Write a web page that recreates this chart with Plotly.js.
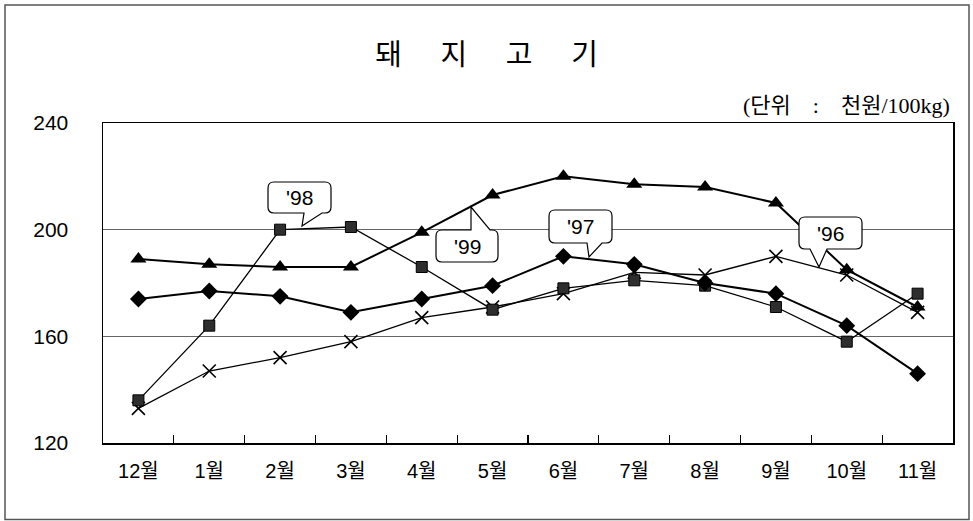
<!DOCTYPE html>
<html>
<head>
<meta charset="utf-8">
<script src="https://cdn.plot.ly/plotly-3.0.1.min.js"></script>
<style>html,body{margin:0;padding:0;background:#fff;}#chart{width:973px;height:521px;}</style>
</head>
<body>
<div id="chart"></div>
<script>
// ---- data ----
const months = ['12월','1월','2월','3월','4월','5월','6월','7월','8월','9월','10월','11월'];
const y96 = [133,147,152,158,167,171,176,184,183,190,183,169];   // X marker
const y97 = [174,177,175,169,174,179,190,187,180,176,164,146];   // diamond
const y98 = [136,164,200,201,186,170,178,181,179,171,158,176];   // square
const y99 = [189,187,186,186,199,213,220,217,216,210,185,171];   // triangle
const yTicks = [120,160,200,240];
const titleText = '돼\u3000\u2004지\u3000\u2004고\u3000\u2004기';
const unitText = '(단위\u2003:\u2003천원/100kg)';
const callLabels = ["'98","'99","'97","'96"];

// ---- layout helpers (pixel -> paper) ----
const L=103, R=953, T=123, B=443;
const px = x => (x-L)/(R-L);
const py = y => (B-y)/(B-T);
function P(x,y){ return px(x).toFixed(5)+','+py(y).toFixed(5); }
function bubble(x0,y0,x1,y1,side,a,b,tx,ty){
  const r=6;
  let d='M'+P(x0+r,y0);
  if(side==='top') d+=' L'+P(a,y0)+' L'+P(tx,ty)+' L'+P(b,y0);
  d+=' L'+P(x1-r,y0)+' Q'+P(x1,y0)+' '+P(x1,y0+r);
  d+=' L'+P(x1,y1-r)+' Q'+P(x1,y1)+' '+P(x1-r,y1);
  if(side==='bottom') d+=' L'+P(b,y1)+' L'+P(tx,ty)+' L'+P(a,y1);
  d+=' L'+P(x0+r,y1)+' Q'+P(x0,y1)+' '+P(x0,y1-r);
  d+=' L'+P(x0,y0+r)+' Q'+P(x0,y0)+' '+P(x0+r,y0)+' Z';
  return {type:'path', xref:'paper', yref:'paper', path:d, fillcolor:'#fff',
          line:{color:'#000', width:1.2}, layer:'above'};
}
const bubbles = [
  [268,182,331,213,'bottom',304,322,302,226],
  [436,230,498,262,'top',471,490,471,207],
  [549,210,612,243,'bottom',587,602,589,257],
  [799,217,862,249,'bottom',810,827,819,267]
];

const shapes = bubbles.map(b => bubble.apply(null,b));
shapes.unshift({type:'rect', xref:'paper', yref:'paper', x0:px(5), x1:px(969), y0:py(5), y1:py(519.5),
  line:{color:'#555', width:1.5}, fillcolor:'rgba(0,0,0,0)', layer:'below'});

const annotations = bubbles.map((b,i) => ({
  xref:'paper', yref:'paper', x:px((b[0]+b[2])/2), y:py((b[1]+b[3])/2),
  xanchor:'center', yanchor:'middle', showarrow:false, text:callLabels[i],
  font:{family:'Liberation Sans, Arial, sans-serif', size:21, color:'#000'}
}));
annotations.push({xref:'paper', yref:'paper', x:px(952), y:py(105), xanchor:'right', yanchor:'middle',
  showarrow:false, text:unitText,
  font:{family:'Liberation Serif, Noto Sans CJK KR, serif', size:22, color:'#000'}});

const lineStyle = (w) => ({color:'#000', width:w});
const traces = [
  {x:months, y:y96, type:'scatter', mode:'lines+markers', name:"'96",
   line:lineStyle(1.3), marker:{symbol:'x-thin-open', size:13, line:{color:'#000', width:1.6}, color:'#000'}},
  {x:months, y:y98, type:'scatter', mode:'lines+markers', name:"'98",
   line:lineStyle(1.3), marker:{symbol:'square', size:11, color:'#2e2e2e', line:{color:'#000', width:1}}},
  {x:months, y:y97, type:'scatter', mode:'lines+markers', name:"'97",
   line:lineStyle(2), marker:{symbol:'diamond', size:13, color:'#000'}},
  {x:months, y:y99, type:'scatter', mode:'lines+markers', name:"'99",
   line:lineStyle(2), marker:{symbol:'triangle-up', size:14, color:'#000'}}
];

const layout = {
  width:973, height:521,
  margin:{l:L, r:973-R, t:T, b:521-B, pad:0},
  paper_bgcolor:'#fff', plot_bgcolor:'#fff',
  showlegend:false,
  title:{text:titleText, x:0.5, xref:'container', y:1-55/521, yref:'container', yanchor:'middle', xanchor:'center',
         font:{family:'Noto Sans CJK KR, sans-serif', size:29, color:'#000'}},
  xaxis:{type:'category', categoryorder:'array', categoryarray:months, range:[-0.5, 11.5], autorange:false,
         showline:true, mirror:true, linecolor:'#000', linewidth:1.5,
         ticks:'inside', tickson:'boundaries', ticklen:8, tickcolor:'#000', tickwidth:1.2,
         showgrid:false, zeroline:false, ticklabelstandoff:9,
         tickfont:{family:'Liberation Sans, Noto Sans CJK KR, sans-serif', size:20, color:'#000'}},
  yaxis:{range:[120,240], autorange:false, tickvals:yTicks, ticktext:yTicks.map(String),
         showline:true, mirror:true, linecolor:'#000', linewidth:1.5,
         ticks:'', showgrid:true, gridcolor:'#666', gridwidth:1, zeroline:false,
         ticklabelstandoff:29,
         tickfont:{family:'Liberation Sans, Arial, sans-serif', size:21, color:'#000'}},
  shapes:shapes,
  annotations:annotations
};

Plotly.newPlot('chart', traces, layout, {displayModeBar:false, staticPlot:true});
</script>
</body>
</html>
